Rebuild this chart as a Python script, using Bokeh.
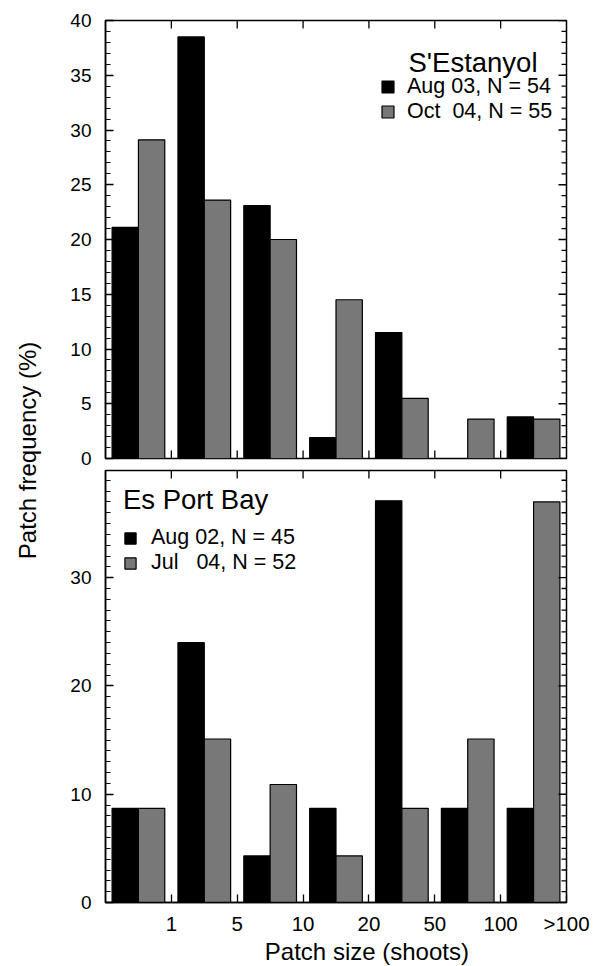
import math
from bokeh.plotting import figure
from bokeh.models import (ColumnDataSource, FixedTicker, LinearAxis, Range1d,
                          Legend, LegendItem, Label)
from bokeh.layouts import row, column
from bokeh.transform import dodge
from bokeh.embed import file_html
from bokeh.resources import INLINE

# ---------------- data ----------------
size_labels = ["1", "5", "10", "20", "50", "100", ">100"]
bins = [0.5, 1.5, 2.5, 3.5, 4.5, 5.5, 6.5]   # centre of each size class
class_edges = [1, 2, 3, 4, 5, 6, 7]          # tick positions between classes

top_site = "S'Estanyol"
top_series = ["Aug 03, N = 54", "Oct\u00a0\u00a004, N = 55"]
top_aug03 = [21.1, 38.5, 23.1, 1.9, 11.5, 0.0, 3.8]
top_oct04 = [29.1, 23.6, 20.0, 14.5, 5.5, 3.6, 3.6]
top_yticks = [0, 5, 10, 15, 20, 25, 30, 35, 40]

bottom_site = "Es Port Bay"
bottom_series = ["Aug 02, N = 45", "Jul\u00a0\u00a0\u00a004, N = 52"]
bot_aug02 = [8.7, 24.0, 4.3, 8.7, 37.1, 8.7, 8.7]
bot_jul04 = [8.7, 15.1, 10.9, 4.3, 8.7, 15.1, 37.0]
bot_yticks = [0, 10, 20, 30]

x_title = "Patch size (shoots)"
y_title = "Patch frequency (%)"

# ---------------- style ----------------
FONT = "Liberation Sans"
BLACK = "#000000"
GREY = "#787878"
W = 543
LEFT, RIGHT = 57, 25


def style_axis(ax, ticker, size, standoff):
    ax.ticker = ticker
    ax.major_tick_in = 8
    ax.major_tick_out = 0
    ax.minor_tick_in = 5
    ax.minor_tick_out = 0
    ax.axis_line_color = BLACK
    ax.axis_line_width = 1.5
    ax.major_tick_line_color = BLACK
    ax.minor_tick_line_color = BLACK
    ax.major_tick_line_width = 1.3
    ax.minor_tick_line_width = 1.1
    ax.major_label_text_font = FONT
    ax.major_label_text_font_size = size
    ax.major_label_text_color = BLACK
    ax.major_label_standoff = standoff


def mirror_ticks(p, xs, ys, size, angle):
    src = ColumnDataSource(dict(x=xs, y=ys))
    p.scatter(x="x", y="y", source=src, marker="dash", size=size, angle=angle,
              line_color=BLACK, line_width=1.3)


def panel(height, ymax, yticks, bt, bb, site_a, site_b, bottom_labels):
    p = figure(width=W, height=height, x_range=Range1d(0, 7), y_range=Range1d(0, ymax),
               output_backend="svg", toolbar_location=None,
               x_axis_location=None, y_axis_location=None,
               min_border_left=LEFT, min_border_right=RIGHT,
               min_border_top=bt, min_border_bottom=bb)
    p.grid.visible = False
    p.outline_line_color = BLACK
    p.outline_line_width = 1.5
    p.background_fill_color = "white"
    p.border_fill_color = "white"

    src = ColumnDataSource(dict(x=bins, a=site_a, b=site_b))
    ra = p.vbar(x=dodge("x", -0.2), top="a", width=0.4, source=src,
                fill_color=BLACK, line_color=BLACK, line_width=1.2)
    rb = p.vbar(x=dodge("x", 0.2), top="b", width=0.4, source=src,
                fill_color=GREY, line_color=BLACK, line_width=1.2)

    minor = [v for v in range(0, int(ymax) + 1) if v not in yticks]
    yt = FixedTicker(ticks=yticks, minor_ticks=minor)
    left = LinearAxis()
    style_axis(left, yt, "19px", 14)
    p.add_layout(left, "left")

    # inward ticks mirrored on the right edge and on the top/bottom edges
    mirror_ticks(p, [7] * len(yticks), yticks, 16, 0)
    mirror_ticks(p, [7] * len(minor), minor, 10, 0)
    inner = class_edges[:-1]
    mirror_ticks(p, inner, [ymax] * len(inner), 16, math.pi / 2)
    if bottom_labels:
        below = LinearAxis()
        style_axis(below, FixedTicker(ticks=class_edges, minor_ticks=[]), "20.5px", 9)
        below.major_label_overrides = {e: lab for e, lab in zip(class_edges, size_labels)}
        p.add_layout(below, "below")
    else:
        mirror_ticks(p, inner, [0] * len(inner), 16, math.pi / 2)
    return p, ra, rb


# ---------------- top panel ----------------
top, ta, tb = panel(469, 40, top_yticks, 20, 11, top_aug03, top_oct04, False)
top_leg = Legend(items=[LegendItem(label=top_series[0], renderers=[ta]),
                        LegendItem(label=top_series[1], renderers=[tb])],
                 location=(275, 334), spacing=-1)
top.add_layout(top_leg)
top.add_layout(Label(x=6.56, y=36.2, text=top_site, text_align="right",
                     text_baseline="alphabetic", text_font=FONT,
                     text_font_size="27.5px", text_color=BLACK))

# ---------------- bottom panel ----------------
bot, ba, bb_ = panel(468, 39.9, bot_yticks, 1, 32, bot_aug02, bot_jul04, True)
bot_leg = Legend(items=[LegendItem(label=bottom_series[0], renderers=[ba]),
                        LegendItem(label=bottom_series[1], renderers=[bb_])],
                 location=(18, 327), title=bottom_site, spacing=0)
bot.add_layout(bot_leg)

for lg, gsz, stand in [(top_leg, 15, 12), (bot_leg, 14, 14)]:
    lg.border_line_color = None
    lg.background_fill_alpha = 0
    lg.padding = 0
    lg.margin = 0
    lg.glyph_width = gsz
    lg.glyph_height = gsz
    lg.label_standoff = stand
    lg.label_height = 22
    lg.label_text_font = FONT
    lg.label_text_font_size = "21.5px"
    lg.label_text_color = BLACK
    lg.title_text_font = FONT
    lg.title_text_font_size = "27.5px"
    lg.title_text_font_style = "normal"
    lg.title_text_color = BLACK
    lg.title_standoff = 9


def text_strip(width, height, x, y, text, angle):
    f = figure(width=width, height=height, x_range=Range1d(0, 1), y_range=Range1d(0, 1),
               output_backend="svg", toolbar_location=None,
               x_axis_location=None, y_axis_location=None, min_border=0)
    f.grid.visible = False
    f.outline_line_color = None
    f.add_layout(Label(x=x, y=y, text=text, angle=angle,
                       text_align="center", text_baseline="middle",
                       text_font=FONT, text_font_size="24px", text_color=BLACK))
    return f


# shared axis titles
xlab = text_strip(W, 28, 0.567, 0.5, x_title, 0)
ylab = text_strip(48, 965, 0.5625, 0.5337, y_title, math.pi / 2)

layout = row(ylab, column(top, bot, xlab))
open("out.html", "w").write(file_html(layout, INLINE))
